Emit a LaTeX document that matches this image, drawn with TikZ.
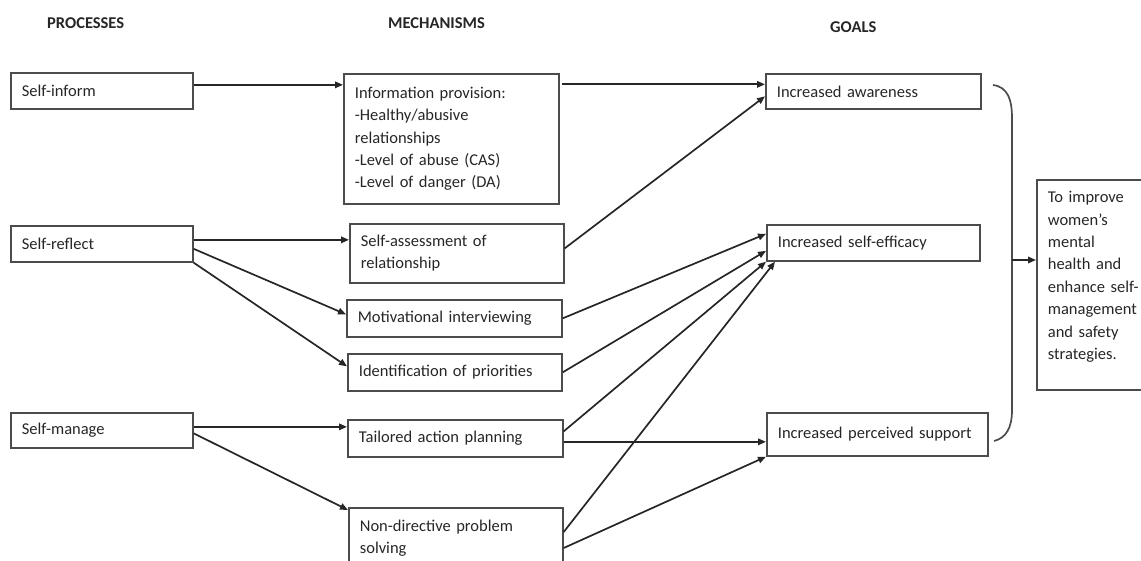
\documentclass[tikz,border=0pt]{standalone}
\usepackage{fontspec}
\setmainfont{Carlito}
\usetikzlibrary{arrows.meta}

\newcommand*{\diagfont}{\fontsize{16.5}{22.4}\selectfont}
\tikzset{
    box/.style={draw=black!70, line width=1.7pt, anchor=north west, inner xsep=11pt, inner ysep=0pt, align=left, text=black!85},
    head/.style={anchor=west, inner sep=0pt, font=\diagfont\bfseries, text=black!85},
    link/.style={->, line width=1.7pt, draw=black!85},
}

\begin{document}
\begin{tikzpicture}[x=1pt,y=-1pt,>={Triangle[length=8pt,width=6.5pt]},font=\diagfont]
                \useasboundingbox (0,0) rectangle (1141,561);
                \clip (0,0) rectangle (1141,561);

                % column headings
                \node[head] (hproc) at (47,23) {PROCESSES};
                \node[head] (hmech) at (388,23) {MECHANISMS};
                \node[head] (hgoal) at (830,27) {GOALS};

                % processes
                \node[box,text width=160pt,minimum height=36pt] (sinform) at (10,72) {Self-inform};
                \node[box,text width=160pt,minimum height=36pt] (sreflect) at (10,225) {Self-reflect};
                \node[box,text width=160pt,minimum height=35pt] (smanage) at (10,412) {Self-manage};

                % mechanisms
                \node[box,text width=193pt,minimum height=130pt] (info) at (343,73)
                    {Information provision:\\-Healthy/abusive\\relationships\\-Level of abuse (CAS)\\-Level of danger (DA)};
                \node[box,text width=192pt,minimum height=59pt] (sassess) at (349,223) {Self-assessment of\\relationship};
                \node[box,text width=193pt,minimum height=37pt] (motiv) at (346,299) {Motivational interviewing};
                \node[box,text width=192pt,minimum height=37pt] (ident) at (347,353) {Identification of priorities};
                \node[box,text width=193pt,minimum height=37pt] (tail) at (347,419) {Tailored action planning};
                \node[box,text width=192pt,minimum height=80pt] (nondir) at (348,507)
                    {Non-directive problem\\solving\rule[-22pt]{0pt}{0pt}};

                % goals
                \node[box,text width=193pt,minimum height=35pt] (aware) at (765,73) {Increased awareness};
                \node[box,text width=191pt,minimum height=36pt] (eff) at (766,224) {Increased self-efficacy};
                \node[box,text width=199pt,minimum height=43pt] (perc) at (766,412) {Increased perceived support};
                \node[box,text width=120pt,minimum height=210pt] (final) at (1036,179)
                    {To improve\\women's\\mental\\health and\\enhance self-\\management\\and safety\\strategies.\rule[-19pt]{0pt}{0pt}};

                % processes to mechanisms
                \coordinate (sinf) at ([yshift=6pt]sinform.east);
                \draw[link] (sinf) -- (sinf -| info.west);
                \coordinate (sref) at ([yshift=4pt]sreflect.east);
                \draw[link] (sref) -- (sref -| sassess.west);
                \draw[link] ([yshift=-5pt]sreflect.east) -- ([yshift=4pt]motiv.west);
                \draw[link] (sreflect.south east) -- ([yshift=6pt]ident.west);
                \coordinate (sman) at ([yshift=3.5pt]smanage.east);
                \draw[link] (sman) -- (sman -| tail.west);
                \draw[link] ([yshift=-3pt]smanage.east) -- ([yshift=-3pt]nondir.north west);

                % mechanisms to goals
                \coordinate (aw) at ([yshift=7pt]aware.west);
                \draw[link] ([xshift=2pt]info.east |- aw) -- (aw);
                \draw[link] ([yshift=5pt]sassess.east) -- ([yshift=-5pt]aware.west);
                \draw[link] (motiv.east) -- ([yshift=9pt]eff.west);
                \draw[link] (ident.east) -- ([yshift=-8pt]eff.west);
                \draw[link] ([yshift=7pt]tail.east) -- (eff.south west);
                \coordinate (tl) at ([yshift=-3.5pt]tail.east);
                \draw[link] (tl) -- (tl -| perc.west);
                \draw[link] ([yshift=-25pt]nondir.north east) -- ([xshift=9pt]eff.south west);
                \draw[link] ([yshift=-41pt]nondir.north east) -- (perc.south west);

                % bracket to overall goal
                \draw[line width=1.7pt,black!70] (993,85) .. controls (1008,87) and (1012,100) .. (1012,118)
                    -- (1012,410) .. controls (1012,428) and (1006,438) .. (994,441);
                \coordinate (bmid) at (1012,260);
                \draw[link] (bmid) -- (bmid -| final.west);
\end{tikzpicture}
\end{document}
